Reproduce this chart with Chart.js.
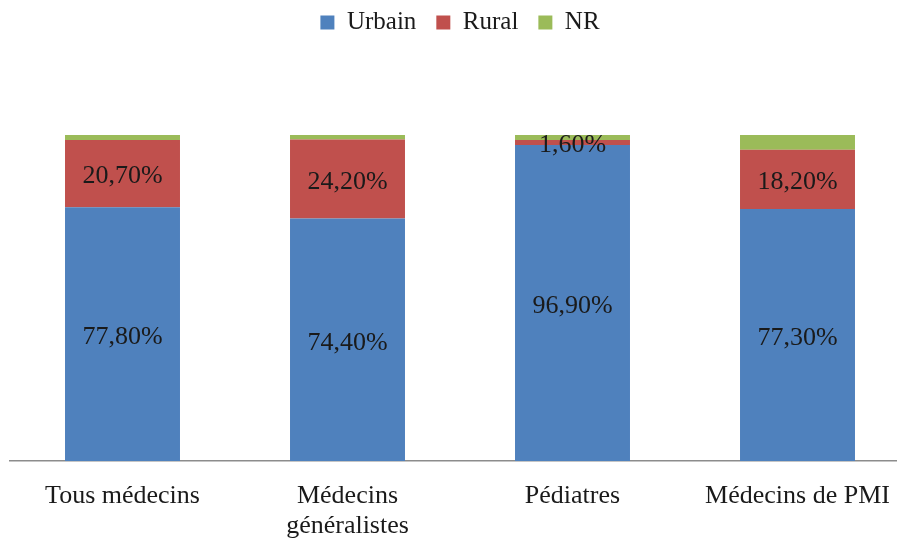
<!DOCTYPE html>
<html>
<head>
<meta charset="utf-8">
<script src="https://cdn.jsdelivr.net/npm/chart.js@4"></script>
<style>
    body { margin: 0; overflow: hidden; background: #fff; }
</style>
</head>
<body>
<canvas id="myChart" width="910" height="540"></canvas>
<script>
const categories = ['Tous médecins', ['Médecins', 'généralistes'], 'Pédiatres', 'Médecins de PMI'];
const urbain = [77.8, 74.4, 96.9, 77.3];
const rural = [20.7, 24.2, 1.6, 18.2];
const nr = [1.5, 1.4, 1.5, 4.5];

const serif = '"Liberation Serif", "Times New Roman", serif';

// draws the % labels in the middle of Urbain and Rural segments
const segmentLabels = {
    id: 'segmentLabels',
    afterDatasetsDraw(chart) {
        const ctx = chart.ctx;
        ctx.save();
        ctx.font = '26px ' + serif;
        ctx.fillStyle = '#1a1a1a';
        ctx.textAlign = 'center';
        ctx.textBaseline = 'middle';
        [0, 1].forEach(i => {
            const meta = chart.getDatasetMeta(i);
            meta.data.forEach((bar, j) => {
                const value = chart.data.datasets[i].data[j];
                const text = value.toFixed(2).replace('.', ',') + '%';
                ctx.fillText(text, bar.x, (bar.y + bar.base) / 2 + 3);
            });
        });
        ctx.restore();
    }
};

// leave room under the legend so 100% sits at y = 135
const legendSpace = {
    id: 'legendSpace',
    beforeInit(chart) {
        const fit = chart.legend.fit;
        chart.legend.fit = function () {
            fit.bind(chart.legend)();
            this.height = 145;
        };
    }
};

const ctx = document.getElementById('myChart').getContext('2d');
new Chart(ctx, {
    type: 'bar',
    data: {
        labels: categories,
        datasets: [
            { label: 'Urbain', data: urbain, backgroundColor: '#4F81BD', borderWidth: 0 },
            { label: 'Rural', data: rural, backgroundColor: '#C0504D', borderWidth: 0 },
            { label: 'NR', data: nr, backgroundColor: '#9BBB59', borderWidth: 0 }
        ]
    },
    options: {
        responsive: false,
        animation: false,
        layout: { padding: { left: 10, right: 0, top: -10, bottom: 0 } },
        datasets: {
            bar: { categoryPercentage: 1, barPercentage: 0.511 }
        },
        scales: {
            x: {
                stacked: true,
                grid: { display: false },
                border: { display: true, color: '#8c8c8c', width: 1.5 },
                ticks: {
                    color: '#1a1a1a',
                    font: { family: serif, size: 26, lineHeight: 1.15 },
                    padding: 12,
                    maxRotation: 0,
                    autoSkip: false
                },
                afterFit(scale) { scale.height = 79; }
            },
            y: {
                stacked: true,
                display: false,
                min: 0,
                max: 100
            }
        },
        plugins: {
            legend: {
                position: 'top',
                labels: {
                    color: '#1a1a1a',
                    font: { family: serif, size: 25 },
                    boxWidth: 14,
                    boxHeight: 14,
                    padding: 20
                }
            },
            tooltip: { enabled: false }
        }
    },
    plugins: [segmentLabels, legendSpace]
});
</script>
</body>
</html>
